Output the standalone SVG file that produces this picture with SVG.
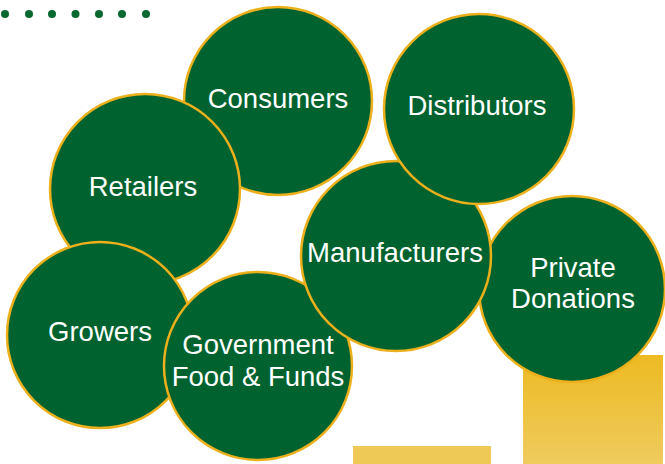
<svg xmlns="http://www.w3.org/2000/svg" width="665" height="464" viewBox="0 0 665 464">
<defs>
<linearGradient id="gold" x1="0" y1="0" x2="0" y2="1">
<stop offset="0" stop-color="#EDBA22"/>
<stop offset="1" stop-color="#EFCB5E"/>
</linearGradient>
<style>
.n{fill:#00622F;stroke:#EBB01B;stroke-width:2.5}
.t{fill:#fff;font-family:"Liberation Sans",Arial,sans-serif;font-size:27.5px;text-anchor:middle}
.d{fill:#07692F}
</style>
</defs>
<rect width="665" height="464" fill="#fff"/>
<g id="dots">
<circle class="d" cx="5" cy="14" r="4"/>
<circle class="d" cx="29" cy="14" r="4"/>
<circle class="d" cx="52" cy="14" r="4"/>
<circle class="d" cx="75.5" cy="14" r="4"/>
<circle class="d" cx="99" cy="14" r="4"/>
<circle class="d" cx="122" cy="14" r="4"/>
<circle class="d" cx="146" cy="14" r="4"/>
</g>
<g id="deco">
<rect x="523" y="355" width="140" height="109" fill="url(#gold)"/>
<rect x="353" y="446" width="138" height="18" fill="#EFC955"/>
</g>
<g id="connectors"></g>
<g id="consumers"><circle class="n" cx="278" cy="101" r="94"/><text class="t" x="278" y="108">Consumers</text></g>
<g id="retailers"><circle class="n" cx="145" cy="189" r="95"/><text class="t" x="143" y="196">Retailers</text></g>
<g id="growers"><circle class="n" cx="100" cy="335" r="93"/><text class="t" x="100" y="341">Growers</text></g>
<g id="government"><circle class="n" cx="258" cy="366" r="94"/><text class="t" x="258" y="354">Government</text><text class="t" x="258" y="386">Food &amp; Funds</text></g>
<g id="private"><circle class="n" cx="572" cy="289" r="93"/><text class="t" x="573" y="277">Private</text><text class="t" x="573" y="308">Donations</text></g>
<g id="manufacturers"><circle class="n" cx="396" cy="256" r="95"/><text class="t" x="395" y="262">Manufacturers</text></g>
<g id="distributors"><circle class="n" cx="479" cy="109" r="95"/><text class="t" x="477" y="115">Distributors</text></g>
</svg>
